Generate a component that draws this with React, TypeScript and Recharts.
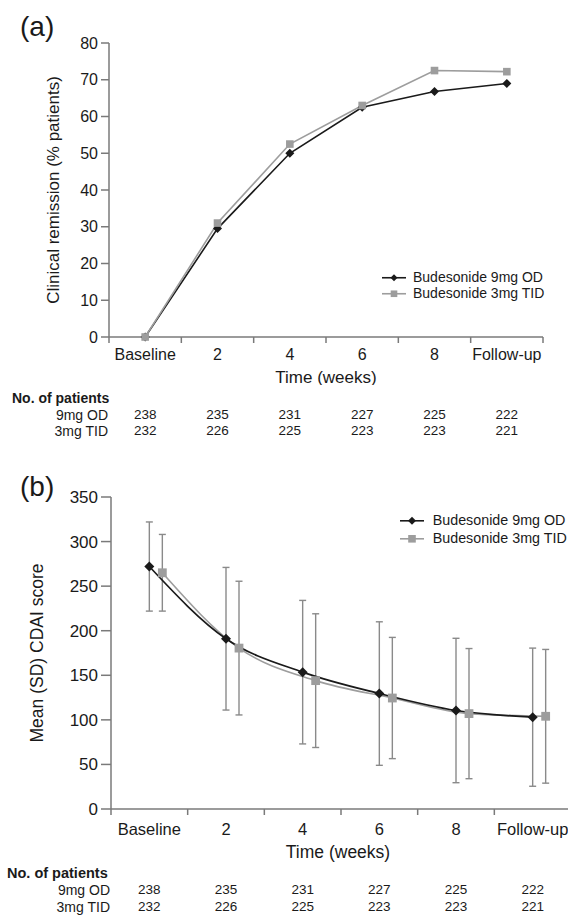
import React from "react";
import { LineChart, Line, XAxis, YAxis, ErrorBar, Legend } from "recharts";

const timepoints = ["Baseline", "2", "4", "6", "8", "Follow-up"];
const seriesNames = ["Budesonide 9mg OD", "Budesonide 3mg TID"];
const groupLabels = ["9mg OD", "3mg TID"];

// (a) clinical remission, % patients
const remissionOD = [0, 29.5, 50, 62.5, 66.8, 69];
const remissionTID = [0, 31, 52.5, 63, 72.5, 72.2];
const remissionTicks = [0, 10, 20, 30, 40, 50, 60, 70, 80];

// (b) mean (SD) CDAI
const cdaiOD = [272, 191, 153.5, 129.5, 110.5, 103];
const cdaiOdSd = [50, 80, 80.5, 80.5, 81, 77.5];
const cdaiTID = [265, 180.5, 144, 124.5, 107, 104];
const cdaiTidSd = [43, 75, 75, 68, 73, 75];
const cdaiTicks = [0, 50, 100, 150, 200, 250, 300, 350];

const patientsOD = [238, 235, 231, 227, 225, 222];
const patientsTID = [232, 226, 225, 223, 223, 221];

const FONT = '"Liberation Sans", Arial, Helvetica, sans-serif';
const INK = "#1a1a1a";
const AXIS = "#7a7a7a";
const GREY = "#9d9d9d";
const ERR = "#8a8a8a";

const remissionData = timepoints.map((time, i) => ({
  time,
  od: remissionOD[i],
  tid: remissionTID[i],
}));

const cdaiData = timepoints.map((time, i) => ({
  time,
  od: cdaiOD[i],
  odSd: cdaiOdSd[i],
  tid: cdaiTID[i],
  tidSd: cdaiTidSd[i],
}));

const diamondDot = (r: number, color: string) => (props: any) => {
  const { cx, cy, index } = props;
  if (cx == null || cy == null) return <g key={`d${index}`} />;
  return (
    <path
      key={`d${index}`}
      d={`M${cx},${cy - r}L${cx + r},${cy}L${cx},${cy + r}L${cx - r},${cy}Z`}
      fill={color}
    />
  );
};

const squareDot = (r: number, color: string) => (props: any) => {
  const { cx, cy, index } = props;
  if (cx == null || cy == null) return <g key={`s${index}`} />;
  return <rect key={`s${index}`} x={cx - r} y={cy - r} width={2 * r} height={2 * r} fill={color} />;
};

// category labels in the middle of each band, tick marks on band edges
const bandTick =
  (halfBand: number, tickLen: number, gap: number, fontSize: number) => (props: any) => {
    const { x, y, payload, index } = props;
    const axisY = y - tickLen - gap;
    return (
      <g>
        <line x1={x - halfBand} x2={x - halfBand} y1={axisY} y2={axisY + tickLen} stroke={AXIS} strokeWidth={1.5} />
        {index === timepoints.length - 1 && (
          <line x1={x + halfBand} x2={x + halfBand} y1={axisY} y2={axisY + tickLen} stroke={AXIS} strokeWidth={1.5} />
        )}
        <text x={x} y={y} dy="0.71em" textAnchor="middle" fill={INK} fontSize={fontSize} fontFamily={FONT}>
          {payload.value}
        </text>
      </g>
    );
  };

const legendContent = (rowH: number, textX: number, fontSize: number, dR: number, sR: number) => () => (
  <div style={{ fontFamily: FONT, fontSize, color: INK, whiteSpace: "nowrap" }}>
    {seriesNames.map((name, i) => (
      <div key={name} style={{ display: "flex", alignItems: "center", height: rowH }}>
        <svg width={textX} height={rowH} style={{ flex: "none", display: "block" }}>
          <line x1={0} x2={24} y1={rowH / 2} y2={rowH / 2} stroke={i === 0 ? INK : GREY} strokeWidth={1.6} />
          {i === 0 ? (
            <path d={`M12,${rowH / 2 - dR}L${12 + dR},${rowH / 2}L12,${rowH / 2 + dR}L${12 - dR},${rowH / 2}Z`} fill={INK} />
          ) : (
            <rect x={12 - sR} y={rowH / 2 - sR} width={2 * sR} height={2 * sR} fill={GREY} />
          )}
        </svg>
        <span style={{ lineHeight: `${rowH}px` }}>{name}</span>
      </div>
    ))}
  </div>
);

function PatientTable(props: {
  top: number;
  titleLeft: number;
  labelRight: number;
  plotLeft: number;
  band: number;
  titleSize: number;
  rowGap: number;
}) {
  const { top, titleLeft, labelRight, plotLeft, band, titleSize, rowGap } = props;
  const rows = [patientsOD, patientsTID];
  const cell = (cy: number): React.CSSProperties => ({
    position: "absolute",
    top: cy - 10,
    height: 20,
    lineHeight: "20px",
    whiteSpace: "nowrap",
  });
  return (
    <>
      <div style={{ ...cell(top), left: titleLeft, fontWeight: "bold", fontSize: titleSize }}>No. of patients</div>
      {rows.map((vals, r) => (
        <React.Fragment key={r}>
          <div style={{ ...cell(top + rowGap * (r + 1)), left: 0, width: labelRight, textAlign: "right", fontSize: 14 }}>
            {groupLabels[r]}
          </div>
          {vals.map((v, i) => (
            <div
              key={i}
              style={{
                ...cell(top + rowGap * (r + 1)),
                left: plotLeft + (i + 0.5) * band - 30,
                width: 60,
                textAlign: "center",
                fontSize: 13.5,
              }}
            >
              {v}
            </div>
          ))}
        </React.Fragment>
      ))}
    </>
  );
}

export default function App() {
  const aPlotLeft = 109;
  const aPlotW = 434;
  const bPlotLeft = 111;
  const bPlotW = 460;
  const aBand = aPlotW / timepoints.length;
  const bBand = bPlotW / timepoints.length;
  const bShift = 13;

  return (
    <div
      style={{
        position: "absolute",
        left: 0,
        top: 0,
        width: 568,
        height: 916,
        overflow: "hidden",
        background: "#fff",
        fontFamily: FONT,
        color: INK,
      }}
    >
      <div style={{ position: "absolute", left: 20, top: 13, fontSize: 28, lineHeight: 1 }}>(a)</div>
      <div style={{ position: "absolute", left: 0, top: 0 }}>
        <LineChart width={568} height={385} data={remissionData} margin={{ top: 43, right: 25, bottom: 0, left: 0 }}>
          <XAxis
            dataKey="time"
            height={48}
            interval={0}
            padding={{ left: aBand / 2, right: aBand / 2 }}
            tickLine={false}
            tickSize={6}
            tickMargin={6}
            axisLine={{ stroke: AXIS, strokeWidth: 1.5 }}
            tick={bandTick(aBand / 2, 6, 6, 16)}
            label={{ value: "Time (weeks)", position: "insideBottom", offset: 2.5, fill: INK, fontSize: 17, fontFamily: FONT }}
          />
          <YAxis
            width={aPlotLeft}
            domain={[0, 80]}
            ticks={remissionTicks}
            interval={0}
            tickSize={8}
            tickMargin={3}
            tick={{ fill: INK, fontSize: 16, fontFamily: FONT }}
            tickLine={{ stroke: AXIS, strokeWidth: 1.5 }}
            axisLine={{ stroke: AXIS, strokeWidth: 1.5 }}
            label={{
              value: "Clinical remission (% patients)",
              angle: -90,
              position: "center",
              dx: -2,
              fill: INK,
              fontSize: 17,
              fontFamily: FONT,
            }}
          />
          <Legend
            layout="vertical"
            align="center"
            verticalAlign="middle"
            content={legendContent(15.5, 31, 14, 3.5, 3.3)}
            wrapperStyle={{ left: 382, top: 270, right: "auto", bottom: "auto", width: "auto" }}
          />
          <Line
            type="linear"
            dataKey="od"
            name={seriesNames[0]}
            stroke={INK}
            strokeWidth={1.6}
            dot={diamondDot(4.5, INK)}
            activeDot={false}
            isAnimationActive={false}
          />
          <Line
            type="linear"
            dataKey="tid"
            name={seriesNames[1]}
            stroke={GREY}
            strokeWidth={1.6}
            dot={squareDot(3.8, GREY)}
            activeDot={false}
            isAnimationActive={false}
          />
        </LineChart>
      </div>
      <PatientTable top={398} titleLeft={12} labelRight={108} plotLeft={aPlotLeft} band={aBand} titleSize={14} rowGap={16.5} />

      <div style={{ position: "absolute", left: 20, top: 473, fontSize: 28, lineHeight: 1 }}>(b)</div>
      <div style={{ position: "absolute", left: 0, top: 440 }}>
        <LineChart width={600} height={424} data={cdaiData} margin={{ top: 57, right: 29, bottom: 0, left: 0 }}>
          <XAxis
            xAxisId="main"
            dataKey="time"
            height={55}
            interval={0}
            padding={{ left: bBand / 2, right: bBand / 2 }}
            tickLine={false}
            tickSize={6}
            tickMargin={8.5}
            axisLine={{ stroke: AXIS, strokeWidth: 1.5 }}
            tick={bandTick(bBand / 2, 6, 8.5, 16.5)}
            label={{ value: "Time (weeks)", position: "insideBottom", offset: 6, dx: -3, fill: INK, fontSize: 17.5, fontFamily: FONT }}
          />
          <XAxis
            xAxisId="shift"
            dataKey="time"
            hide
            padding={{ left: bBand / 2 + bShift, right: bBand / 2 - bShift }}
          />
          <YAxis
            width={bPlotLeft}
            domain={[0, 350]}
            ticks={cdaiTicks}
            interval={0}
            tickSize={10}
            tickMargin={3}
            tick={{ fill: INK, fontSize: 17, fontFamily: FONT }}
            tickLine={{ stroke: AXIS, strokeWidth: 1.5 }}
            axisLine={{ stroke: AXIS, strokeWidth: 1.5 }}
            label={{
              value: "Mean (SD) CDAI score",
              angle: -90,
              position: "center",
              dx: -18.5,
              fill: INK,
              fontSize: 17.5,
              fontFamily: FONT,
            }}
          />
          <Legend
            layout="vertical"
            align="center"
            verticalAlign="middle"
            content={legendContent(17.6, 32.7, 14.3, 4, 3.8)}
            wrapperStyle={{ left: 400, top: 72, right: "auto", bottom: "auto", width: "auto" }}
          />
          <Line
            xAxisId="shift"
            type="monotone"
            dataKey="tid"
            name={seriesNames[1]}
            stroke={GREY}
            strokeWidth={1.6}
            dot={squareDot(4.4, GREY)}
            activeDot={false}
            isAnimationActive={false}
          >
            <ErrorBar dataKey="tidSd" direction="y" width={3.5} stroke={ERR} strokeWidth={1.4} />
          </Line>
          <Line
            xAxisId="main"
            type="monotone"
            dataKey="od"
            name={seriesNames[0]}
            stroke={INK}
            strokeWidth={1.7}
            dot={diamondDot(5, INK)}
            activeDot={false}
            isAnimationActive={false}
          >
            <ErrorBar dataKey="odSd" direction="y" width={3.5} stroke={ERR} strokeWidth={1.4} />
          </Line>
        </LineChart>
      </div>
      <PatientTable top={873} titleLeft={7} labelRight={110} plotLeft={bPlotLeft} band={bBand} titleSize={14.5} rowGap={16.8} />
    </div>
  );
}
